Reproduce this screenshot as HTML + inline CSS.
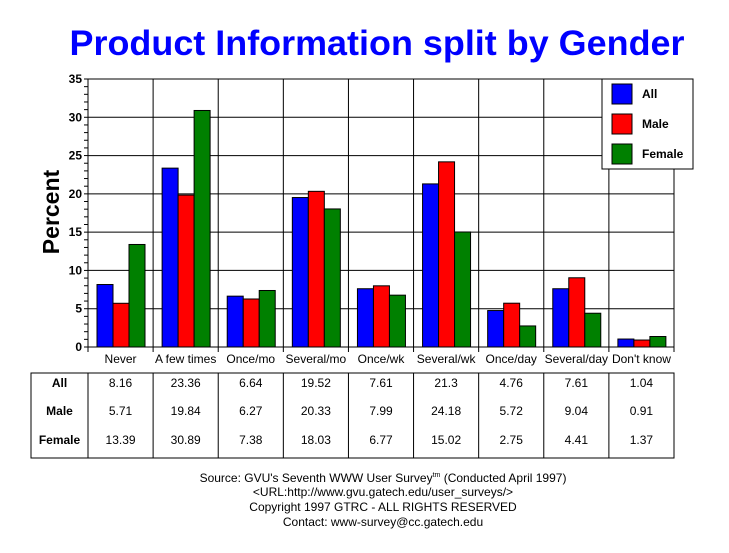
<!DOCTYPE html>
<html><head><meta charset="utf-8"><style>
body{margin:0;background:#fff;}
svg{display:block;font-family:"Liberation Sans",Arial,sans-serif;}
</style></head><body>
<svg id="chart" width="729" height="553" viewBox="0 0 729 553" xmlns="http://www.w3.org/2000/svg">
<text x="377" y="55" text-anchor="middle" font-size="35" font-weight="bold" fill="#0000ff" textLength="615" lengthAdjust="spacingAndGlyphs">Product Information split by Gender</text>
<text transform="translate(59,212) rotate(-90)" text-anchor="middle" font-size="23" font-weight="bold" fill="#000">Percent</text>
<g id="grid"></g><g id="bars"></g><g id="axes"></g><g id="table"></g>
<g>
<rect x="602" y="79" width="91" height="90" fill="#fff" stroke="#000"/>
<rect x="612" y="84" width="20" height="20" fill="#0000ff" stroke="#000"/>
<text x="642" y="98" font-size="12" font-weight="bold">All</text>
<rect x="612" y="114" width="20" height="20" fill="#ff0000" stroke="#000"/>
<text x="642" y="128" font-size="12" font-weight="bold">Male</text>
<rect x="612" y="144" width="20" height="20" fill="#008000" stroke="#000"/>
<text x="642" y="158" font-size="12" font-weight="bold">Female</text>
</g>
<g font-size="12" text-anchor="middle">
<text x="383" y="482">Source: GVU's Seventh WWW User Survey<tspan font-size="7" dy="-5">tm</tspan><tspan dy="5"> (Conducted April 1997)</tspan></text>
<text x="383" y="496">&lt;URL:http://www.gvu.gatech.edu/user_surveys/&gt;</text>
<text x="383" y="511">Copyright 1997 GTRC - ALL RIGHTS RESERVED</text>
<text x="383" y="526">Contact: www-survey@cc.gatech.edu</text>
</g>
</svg>
<script>
const categories=["Never","A few times","Once/mo","Several/mo","Once/wk","Several/wk","Once/day","Several/day","Don't know"];
const seriesNames=["All","Male","Female"];
const allValues=[8.16,23.36,6.64,19.52,7.61,21.3,4.76,7.61,1.04];
const maleValues=[5.71,19.84,6.27,20.33,7.99,24.18,5.72,9.04,0.91];
const femaleValues=[13.39,30.89,7.38,18.03,6.77,15.02,2.75,4.41,1.37];
const yTicks=[0,5,10,15,20,25,30,35];
const colors=["#0000ff","#ff0000","#008000"];
const NS="http://www.w3.org/2000/svg";
const X0=88,X1=674,Y0=347,Y1=79,YMAX=35;
const cw=(X1-X0)/categories.length;
function y(v){return Y0-(v/YMAX)*(Y0-Y1);}
function xc(i){return X0+i*cw;}
function mk(p,t,a){const e=document.createElementNS(NS,t);for(const k in a)e.setAttribute(k,a[k]);p.appendChild(e);return e;}
const grid=document.getElementById('grid'),bars=document.getElementById('bars'),axes=document.getElementById('axes'),table=document.getElementById('table');
yTicks.forEach(t=>{const l=mk(grid,'line',{x1:X0,x2:X1,y1:y(t),y2:y(t),stroke:'#000'});


const tx=mk(axes,'text',{x:X0-6,y:y(t)+4,'text-anchor':'end','font-size':12,'font-weight':'bold'});tx.textContent=t;

});
for(let v=0;v<=YMAX;v++){mk(axes,'line',{x1:X0-4,x2:X0,y1:y(v),y2:y(v),stroke:'#000'});}
for(let i=0;i<=categories.length;i++){const l=mk(grid,'line',{x1:xc(i),x2:xc(i),y1:Y1,y2:Y0+5,stroke:'#000'});

}
mk(axes,'line',{x1:X0,x2:X0,y1:Y1,y2:Y0,stroke:'#000'});
const series=[allValues,maleValues,femaleValues];
const bw=16;
categories.forEach((c,i)=>{
 series.forEach((s,j)=>{const r=mk(bars,'rect',{x:xc(i)+9+j*bw,y:y(s[i]),width:bw,height:Y0-y(s[i]),fill:colors[j],stroke:'#000'});
 
 });
 const t=mk(axes,'text',{x:xc(i)+cw/2,y:363,'text-anchor':'middle','font-size':12});t.textContent=c;
 
 
});
const TT=373,TB=458,TL=31;
const frame=mk(table,'rect',{x:TL,y:TT,width:X1-TL,height:TB-TT,fill:'none',stroke:'#000'});


for(let i=0;i<categories.length;i++)mk(table,'line',{x1:xc(i),x2:xc(i),y1:TT,y2:TB,stroke:'#000'});
const rowY=[387,415,444];
seriesNames.forEach((n,j)=>{const t=mk(table,'text',{x:(TL+X0)/2,y:rowY[j],'text-anchor':'middle','font-size':12,'font-weight':'bold'});t.textContent=n;


series[j].forEach((v,i)=>{const c=mk(table,'text',{x:xc(i)+cw/2,y:rowY[j],'text-anchor':'middle','font-size':12});c.textContent=v;

});});
</script>
</body></html>
